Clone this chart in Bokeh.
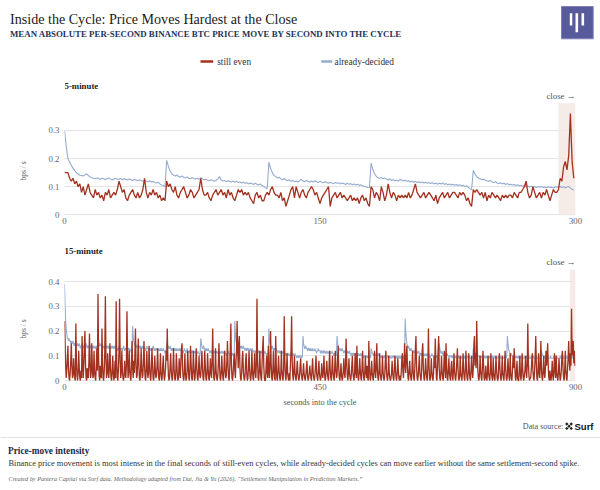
from bokeh.plotting import figure
from bokeh.layouts import column
from bokeh.models import Range1d, BoxAnnotation, Label, FixedTicker, Title
from bokeh.core.properties import value
from bokeh.embed import file_html
from bokeh.resources import INLINE

# ---------------- data ----------------
# 5-minute cycles, seconds 0..299
# still-even, hundredths of bps/s
R5 = [15,15,15,13,12,13,11,12,10,11, 8,10,7,9,11,8,7,6,9,7, 8,6,7,5,8,7,9,6,7,8,
      7,9,12,10,8,9,6,5,7,8, 9,7,6,8,6,7,9,13,8,6, 8,7,9,7,8,6,7,5,6,5,
      12,10,11,9,8,10,7,6,8,9, 10,8,6,7,9,8,6,7,8,9, 13,9,7,7,8,6,5,7,8,9,
      7,8,9,7,8,6,9,7,8,6, 5,7,9,8,9,7,8,7,8,6, 5,4,7,8,6,7,5,5,7,8,
      7,9,10,8,7,7,6,8,5,6, 3,5,7,9,10,6,10,8,6,8, 9,7,6,8,9,10,9,7,8,6,
      4,6,7,8,9,10,3,6,7,8, 6,7,8,6,7,6,5,6,7,5, 6,5,6,4,6,7,5,6,4,3,
      10,9,6,8,7,5,10,8,5,7, 11,8,6,8,7,5,7,6,7,6, 7,6,8,6,7,9,11,8,7,6,
      7,8,6,7,8,7,6,5,7,4, 6,7,8,6,7,8,6,7,8,8, 7,6,8,7,8,7,5,6,4,3,
      9,8,9,8,7,8,6,8,5,7, 6,8,7,6,7,6,5,7,6,7, 6,7,7,6,8,7,6,8,8,9,
      10,12,8,6,7,10,8,6,7,8, 6,8,7,9,7,5,7,9,8,8, 9,13,12,17,19,16,21,36,19,13]
# already-decided, thousandths of bps/s
B5 = [300,245,200,188,176,166,158,150,145,141, 140,138,142,146,140,135,132,130,128,131,
      129,126,130,128,125,129,131,127,124,128, 130,126,127,129,125,128,126,124,127,125,
      122,126,124,121,125,122,119,123,120,118, 121,117,119,115,113,116,110,106,104,100,
      194,172,156,146,141,138,142,136,134,138, 133,131,135,130,128,132,129,127,130,126,
      132,128,124,127,123,121,125,122,119,123, 128,136,124,120,122,118,121,119,117,120,
      116,119,115,117,113,116,112,114,110,113, 111,108,112,109,106,110,104,101,96,93,
      187,165,150,140,136,131,134,128,125,129, 124,121,125,119,122,118,120,117,121,126,
      120,118,122,119,116,120,117,121,118,115, 119,116,114,118,115,112,116,113,111,115,
      112,114,110,113,111,108,112,109,111,107, 110,106,109,105,107,103,101,99,97,96,
      184,162,147,137,132,130,133,128,131,127, 124,128,122,125,121,123,120,126,124,120,
      123,119,121,117,120,116,119,115,118,114, 117,113,116,112,115,111,114,110,113,109,
      112,110,113,108,111,107,110,106,109,105, 108,104,107,103,105,101,103,98,93,89,
      158,145,136,131,128,125,127,123,121,119, 122,117,115,118,113,111,114,110,112,108,
      111,107,109,106,108,104,107,103,105,102, 104,100,103,99,102,98,101,97,100,98,
      101,97,99,96,100,97,98,95,99,100, 98,101,97,100,96,99,101,95,91,88]

# 15-minute cycles, seconds 0..899 (hundredths of bps/s)
R15 = [24,17,6,1,4,9, 14,5,1,0,3,8,   15,6,1,2,9,4, 1,0,23,8,2,0,   3,12,5,1,0,4, 1,18,7,1,6,14,
       20,7,1,0,5,2, 1,8,19,6,1,3,    15,6,1,2,12,4, 1,0,6,13,4,35, 10,2,0,6,2,1, 21,7,1,0,4,12,
       34,9,1,3,11,4, 1,5,15,5,1,0,   4,10,3,0,2,8, 1,32,7,1,0,5,   12,33,9,1,3,12, 4,1,0,2,8,3,
       1,6,28,9,1,4, 12,4,1,0,7,16,   5,1,8,3,11,21, 6,1,2,9,17,6,  1,0,4,13,5,1, 2,8,16,6,1,0,
       5,12,4,1,3,14, 6,1,0,5,13,7,   1,0,3,10,4,1, 2,6,13,5,1,0,   4,11,3,0,1,6, 10,3,0,2,5,12,
       8,21,9,2,0,1, 6,11,4,1,0,5,    13,5,1,0,3,11, 6,1,0,2,9,4,   1,8,13,15,5,1, 0,3,11,3,0,1,
       4,12,6,1,0,5, 14,7,1,0,4,12,   5,0,1,6,13,5, 1,0,4,10,3,1,   2,7,12,5,1,0, 4,12,6,1,0,3,
       11,5,1,0,4,9, 3,1,8,21,7,1,    0,3,13,4,1,0, 2,7,15,6,1,0,   3,10,4,1,0,6, 12,4,1,2,8,16,
       6,1,0,5,13,23, 6,1,0,3,8,11,   4,1,8,12,24,12, 5,15,18,5,1,0, 3,9,12,4,1,0, 2,8,11,3,0,1,
       5,12,5,1,0,3, 12,4,1,0,6,11,   3,1,7,33,8,1, 0,4,12,4,1,0,   7,13,18,6,1,0, 0,5,10,3,1,14,
       5,1,6,20,7,1, 0,4,12,4,1,0,    18,6,1,0,4,10, 4,1,0,3,12,4,  1,0,5,26,9,2, 0,4,11,3,1,0,
       3,0,7,12,26,8, 2,0,4,10,3,1,   0,4,8,3,1,0, 2,6,9,3,1,0,     3,7,3,1,0,2, 5,8,2,0,1,3,
       6,3,1,0,5,9, 3,1,0,2,6,10,     3,1,0,4,8,3, 1,0,2,7,3,1,     4,10,3,0,1,4, 8,3,1,0,6,12,
       4,1,0,5,10,3, 1,0,6,12,4,1,    2,9,14,5,1,0, 3,7,2,0,1,4,    9,3,1,6,17,8, 2,0,3,9,3,1,
       0,2,6,10,3,1, 0,4,11,3,1,14,   6,1,0,3,9,4, 1,0,5,12,4,1,    0,4,10,3,1,6, 1,0,16,7,1,0,
       3,8,3,1,0,4, 12,4,1,5,15,5,    1,0,4,11,3,1, 0,3,10,4,1,0,   2,8,12,4,1,0, 3,10,3,1,0,1,
       3,8,3,1,0,5, 10,4,1,0,3,9,     4,1,0,2,0,3, 8,11,4,1,6,15,   7,3,10,14,6,1, 0,4,8,3,1,0,
       4,12,4,1,0,5, 13,18,6,1,0,2,   6,10,3,1,0,4, 12,15,5,1,0,3,  9,4,1,0,6,21, 6,1,0,2,9,4,
       1,0,3,10,5,17, 8,1,0,6,12,18,  5,1,0,3,10,4, 1,0,5,12,5,1,   15,6,1,0,4,9, 3,1,0,6,8,2,
       0,4,11,4,1,0, 3,8,13,5,1,0,    2,10,3,1,0,4, 11,4,1,0,5,12,  4,1,0,3,11,4, 1,0,4,10,4,1,
       5,14,18,6,11,5, 24,12,4,1,0,3, 10,4,1,0,5,12, 7,1,0,2,6,1,   0,3,10,3,1,0, 4,11,3,1,0,9,
       3,1,0,4,10,4, 1,0,1,8,11,4,    1,0,3,10,3,1, 0,5,12,5,1,0,   2,9,5,1,0,11, 3,1,0,4,10,5,
       13,7,1,0,4,8, 1,0,0,5,10,2,    0,3,11,5,1,0, 2,4,10,4,1,6,   23,8,2,0,1,1, 4,8,11,4,1,0,
       4,10,18,7,1,0, 3,11,4,1,6,16,  5,1,0,4,10,3, 1,5,12,6,9,15,  6,1,0,4,1,0, 3,8,2,0,4,11,
       4,1,10,3,1,0, 4,9,3,0,1,4,     10,12,5,1,0,4, 12,4,1,0,5,9,  16,8,4,11,6,29, 10,14,16,7,12,6]
B15 = [39,30,24,21,19,17,17,16,17,16, 16,15,16,15,15,16,15,14,15,15, 14,15,14,15,14,14,15,14,13,14,
       14,15,14,13,14,14,13,14,15,14, 13,14,14,13,14,13,14,14,13,14, 13,14,13,14,13,13,14,13,12,13,
       16,15,14,14,15,14,13,14,14,13, 14,13,14,13,14,14,13,14,13,13, 14,13,13,14,13,14,13,13,14,13,
       13,14,13,13,12,13,14,13,13,12, 13,13,12,13,14,13,12,13,13,12, 13,12,13,13,12,13,12,12,11,12,
       22,18,16,15,14,15,14,14,13,14, 14,13,14,13,14,13,13,14,13,13, 14,13,13,12,13,14,13,13,12,13,
       13,12,13,13,12,13,14,13,12,13, 12,13,13,12,13,12,13,12,12,13, 12,13,12,12,13,12,12,11,12,12,
       15,14,13,14,13,13,14,13,12,13, 13,12,13,13,12,13,12,13,12,12, 13,12,12,13,12,12,13,12,12,11,
       12,13,12,12,11,12,13,12,11,12, 12,11,12,12,11,12,12,11,12,11, 12,11,12,11,11,12,11,11,10,11,
       17,15,14,13,13,14,13,12,13,12, 13,12,12,13,12,12,11,12,12,11, 12,12,11,12,11,12,12,11,12,11,
       11,12,11,12,11,11,12,11,11,12, 11,11,12,11,11,10,11,11,12,11, 11,10,11,11,10,11,11,10,10,11,
       24,19,16,15,14,15,14,15,14,13, 14,13,14,13,13,14,13,13,12,13, 13,12,13,13,12,13,12,12,13,12,
       12,13,12,12,11,12,12,11,12,12, 11,12,12,11,12,11,11,12,11,11, 12,11,11,12,11,11,10,11,11,10,
       21,17,15,14,13,13,14,13,12,13, 13,12,12,13,12,12,11,12,12,11, 12,11,12,11,11,12,11,11,10,11,
       11,10,11,11,10,11,10,10,11,10, 11,10,10,11,10,10,11,10,10,9, 10,10,9,10,10,9,10,10,9,10,
       18,15,14,13,13,14,13,13,12,13, 13,12,13,12,13,12,12,13,12,12, 12,13,12,12,11,12,12,13,12,12,
       12,11,12,12,11,12,11,12,12,11, 11,12,11,11,12,11,11,12,11,11, 11,12,11,11,10,11,11,10,11,10,
       18,15,14,13,13,12,13,12,12,13, 12,12,11,12,12,11,12,11,11,12, 11,11,12,11,11,10,11,11,10,11,
       11,10,11,11,10,11,10,10,11,10, 10,11,10,10,11,10,10,9,10,10, 10,9,10,10,9,10,10,9,10,9,
       13,12,11,11,10,11,10,11,10,10, 11,10,10,11,10,10,9,10,10,9, 10,10,9,10,10,9,10,9,10,10,
       9,10,10,9,10,9,9,10,9,10, 10,9,10,9,9,10,9,10,9,9, 10,9,9,10,9,9,10,9,9,10,
       25,20,17,15,14,13,14,13,12,13, 12,13,12,12,11,12,12,11,12,11, 11,12,11,11,12,11,10,11,11,10,
       11,10,11,10,10,11,10,10,11,10, 10,11,10,10,9,10,10,11,10,10, 10,9,10,10,9,10,10,9,10,10,
       15,13,12,11,11,12,11,10,11,11, 10,11,10,10,11,10,10,9,10,10, 10,9,10,10,9,10,10,9,10,9,
       10,9,9,10,9,10,9,9,10,9, 9,10,9,9,10,9,9,10,9,9, 10,9,9,10,9,9,9,10,9,9,
       13,12,11,10,11,10,10,11,10,10, 10,9,10,10,9,10,9,10,10,9, 10,9,9,10,9,10,9,9,10,9,
       9,10,9,9,10,9,9,10,9,9, 10,9,9,9,10,9,9,10,9,9, 9,10,9,9,9,10,9,9,9,10,
       18,15,13,12,11,11,10,11,10,10, 10,9,10,10,9,10,9,10,9,9, 10,9,9,10,9,9,10,9,9,9,
       10,9,9,9,10,9,9,9,10,9, 9,9,10,9,9,9,10,9,9,9, 9,10,9,9,9,10,9,9,9,9,
       12,11,10,10,9,10,9,9,10,9, 9,10,9,9,9,9,10,9,9,9, 9,9,10,9,9,9,9,10,9,9,
       9,9,9,10,9,9,9,9,10,9, 9,9,9,9,10,9,9,9,9,9, 10,9,9,9,10,9,9,10,9,9]

SERIES = ["still even", "already-decided"]
X_TICKS_5 = [0, 150, 300]
X_TICKS_15 = [0, 450, 900]
Y_TICKS_5 = [0, 0.1, 0.2, 0.3]
Y_TICKS_15 = [0, 0.1, 0.2, 0.3, 0.4]
CLOSE_5 = (290, 300)
CLOSE_15 = (890, 900)

# ---------------- style ----------------
W = 600
SERIF = "Liberation Serif"
RED = "#a2311f"
BLUE = "#95abcf"
NAVY = "#22345a"
GRID = "#e4e4e4"
TICK = "#666666"


def canvas(h):
    p = figure(width=W, height=h, x_range=Range1d(0, W), y_range=Range1d(h, 0),
               x_axis_location=None, y_axis_location=None, frame_align=False,
               output_backend="svg", toolbar_location=None, min_border=0)
    p.grid.visible = False
    p.outline_line_color = None
    p.background_fill_color = "white"
    p.border_fill_color = "white"
    return p


def txt(p, x, y, s, size, color="#222222", style="normal", align="left",
        baseline="middle", font=SERIF):
    p.text(x=[x], y=[y], text=[s], text_font=value(font), text_font_size=size,
           text_font_style=style, text_color=color, text_align=align,
           text_baseline=baseline)


# ---------------- header ----------------
hdr = canvas(80)
txt(hdr, 9.5, 18.5, "Inside the Cycle: Price Moves Hardest at the Close", "14.1px",
    "#1a1a1a", baseline="alphabetic")
txt(hdr, 9.5, 33.2, "MEAN ABSOLUTE PER-SECOND BINANCE BTC PRICE MOVE BY SECOND INTO THE CYCLE",
    "8.85px", NAVY, style="bold", baseline="alphabetic")
hdr.segment(x0=[200, 320.7], y0=[61, 61], x1=[212.7, 331.7], y1=[61, 61],
            line_color=[RED, BLUE], line_width=2.5)
txt(hdr, 216.7, 61, SERIES[0], "9.3px", "#333333")
txt(hdr, 334, 61, SERIES[1], "9.3px", "#333333")
# logo
hdr.quad(left=[561], right=[592.7], top=[6], bottom=[38.3], fill_color="#585b9b",
         line_color="#7d80b6", line_width=1)
hdr.quad(left=[569.3, 575.0, 581.0], right=[571.8, 577.6, 583.6],
         top=[12.7, 12.7, 12.7], bottom=[25, 31.7, 25], fill_color="white", line_color=None)


# ---------------- panels ----------------
def panel(h, bottom, xmax, ppu, y0, xticks, yticks, title, close, still, decided,
          box_px, title_px, close_px, ylab_offset, xlabel=None):
    fh = h - bottom
    y1 = y0 + fh / ppu
    p = figure(width=W, height=h, x_range=Range1d(0, xmax), y_range=Range1d(y0, y1),
               min_border_left=62, min_border_right=25, min_border_top=0,
               min_border_bottom=bottom, output_backend="svg", toolbar_location=None)
    p.outline_line_color = None
    p.background_fill_color = "white"
    p.border_fill_color = "white"
    p.xgrid.visible = False
    p.ygrid.ticker = FixedTicker(ticks=yticks)
    p.ygrid.grid_line_color = GRID
    p.ygrid.grid_line_width = 1
    p.xaxis.ticker = FixedTicker(ticks=xticks)
    p.yaxis.ticker = FixedTicker(ticks=yticks)
    p.yaxis.major_label_overrides = {t: ("0" if t == 0 else f"{t:g}") for t in yticks}
    for ax in p.axis:
        ax.axis_line_color = None
        ax.major_tick_line_color = None
        ax.minor_tick_line_color = None
        ax.major_tick_out = 0
        ax.major_tick_in = 0
        ax.minor_tick_out = 0
        ax.minor_tick_in = 0
        ax.major_label_text_font = SERIF
        ax.major_label_text_font_size = "8.8px"
        ax.major_label_text_color = TICK
    p.xaxis.major_label_standoff = 2
    p.yaxis.major_label_standoff = 5
    if xlabel:
        p.xaxis.axis_label = xlabel
        p.xaxis.axis_label_text_font = SERIF
        p.xaxis.axis_label_text_font_size = "8.3px"
        p.xaxis.axis_label_text_font_style = "normal"
        p.xaxis.axis_label_text_color = "#555555"
        p.xaxis.axis_label_standoff = 5
    p.add_layout(Title(text="bps / s", align="left", offset=ylab_offset,
                       vertical_align="middle", standoff=34, text_font=SERIF,
                       text_font_size="7.5px", text_font_style="normal",
                       text_color="#666666"), "left")

    p.add_layout(BoxAnnotation(left=close[0], right=close[1], bottom=y0,
                               top=y0 + box_px / ppu, fill_color="#f3e7e3",
                               fill_alpha=0.85, line_color=None, level="underlay"))
    p.line(list(range(len(decided))), decided, line_color=BLUE, line_width=1.1)
    p.line(list(range(len(still))), still, line_color=RED, line_width=1.3)

    p.add_layout(Label(x=0, y=y0 + title_px / ppu, text=title, text_font=SERIF,
                       text_font_style="bold", text_font_size="8.8px", text_color="#222222",
                       text_baseline="middle", text_align="left"))
    p.add_layout(Label(x=xmax, y=y0 + close_px / ppu, text="close \u2192", text_font=SERIF,
                       text_font_size="8.8px", text_color="#555555",
                       text_baseline="middle", text_align="right"))
    return p


p1 = panel(152, 17, 300, 281.0, -0.0025, X_TICKS_5, Y_TICKS_5, "5-minute", CLOSE_5,
           [v / 100 for v in R5], [v / 1000 for v in B5], 112.3, 130.0, 119.5, 35)
p2 = panel(180, 31, 900, 247.5, -0.004, X_TICKS_15, Y_TICKS_15, "15-minute", CLOSE_15,
           [v / 100 for v in R15], [v / 100 for v in B15], 111.7, 131.0, 119.3, 43,
           "seconds into the cycle")

# ---------------- footer ----------------
ftr = canvas(76)
txt(ftr, 563, 13.7, "Data source:", "8.1px", "#555555", align="right")
ftr.rect(x=[566.3, 570.7, 568.5, 566.3, 570.7], y=[11.5, 11.5, 13.7, 15.9, 15.9],
         width=2.4, height=2.4, fill_color="#222222", line_color=None, angle=0.785)
txt(ftr, 574, 13.7, "Surf", "9.5px", "#111111", style="bold", font="Liberation Sans")
ftr.segment(x0=[0], y0=[25], x1=[W], y1=[25], line_color="#e2e2e2", line_width=1)
txt(ftr, 7.5, 38, "Price-move intensity", "9.3px", "#1b2a47", style="bold")
txt(ftr, 8, 50.7, "Binance price movement is most intense in the final seconds of still-even "
    "cycles, while already-decided cycles can move earlier without the same "
    "settlement-second spike.", "8.4px", "#333333")
txt(ftr, 8, 66, "Created by Pantera Capital via Surf data. Methodology adapted from Dai, "
    "Jia & Yu (2026), \u201cSettlement Manipulation in Prediction Markets.\u201d", "6.2px",
    "#666666", style="italic")

page = column(hdr, p1, p2, ftr, spacing=0)
open("out.html", "w").write(file_html(page, INLINE))
